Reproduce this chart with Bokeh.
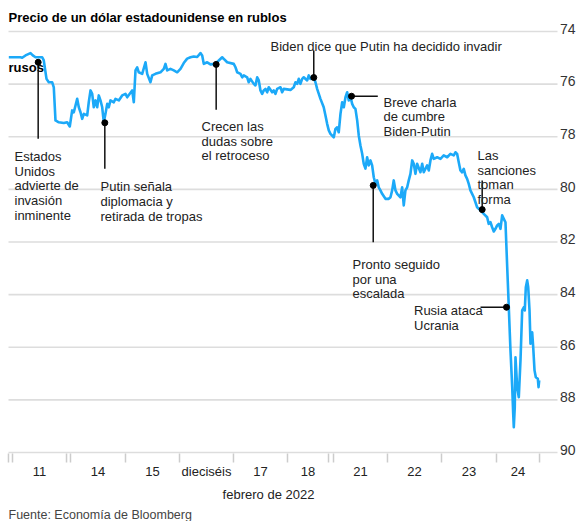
from bokeh.plotting import figure
from bokeh.models import Range1d
from bokeh.embed import file_html
from bokeh.resources import INLINE
from bokeh.core.properties import value

# ---------------- data ----------------
# time axis in trading-session units (one session = ~1.0), weekends compressed
t = [
    -0.068, 0.037, 0.147, 0.178, 0.239, 0.331, 0.373, 0.423, 0.546, 0.575,
    0.625, 0.667, 0.730, 0.759, 0.790, 0.851, 0.943, 1.005, 1.053, 1.097,
    1.127, 1.189, 1.219, 1.250, 1.281, 1.311, 1.373, 1.402, 1.434, 1.465,
    1.494, 1.526, 1.557, 1.586, 1.617, 1.649, 1.678, 1.709, 1.741, 1.770,
    1.801, 1.862, 1.893, 1.954, 2.016, 2.077, 2.108, 2.200, 2.230, 2.261,
    2.292, 2.321, 2.384, 2.445, 2.476, 2.536, 2.568, 2.628, 2.720, 2.781,
    2.812, 2.843, 2.904, 2.965, 3.027, 3.088, 3.148, 3.211, 3.272, 3.332,
    3.395, 3.455, 3.487, 3.516, 3.579, 3.639, 3.731, 3.792, 3.854, 3.884,
    3.946, 4.067, 4.099, 4.130, 4.191, 4.222, 4.252, 4.314, 4.343, 4.374,
    4.435, 4.466, 4.498, 4.527, 4.558, 4.589, 4.619, 4.650, 4.681, 4.711,
    4.773, 4.803, 4.834, 4.865, 4.926, 4.957, 4.987, 5.110, 5.170, 5.202,
    5.233, 5.262, 5.293, 5.325, 5.354, 5.417, 5.446, 5.477, 5.538, 5.569,
    5.600, 5.661, 5.721, 5.753, 5.784, 5.814, 5.845, 5.906, 5.937, 5.968,
    5.997, 6.029, 6.060, 6.090, 6.121, 6.152, 6.181, 6.212, 6.244, 6.273,
    6.304, 6.336, 6.365, 6.396, 6.427, 6.457, 6.488, 6.519, 6.549, 6.580,
    6.611, 6.641, 6.672, 6.703, 6.732, 6.764, 6.795, 6.856, 6.916, 6.948,
    6.979, 7.008, 7.040, 7.071, 7.131, 7.163, 7.192, 7.223, 7.255, 7.284,
    7.315, 7.347, 7.376, 7.407, 7.438, 7.499, 7.531, 7.560, 7.622, 7.652,
    7.683, 7.714, 7.744, 7.806, 7.867, 7.927, 7.990, 8.050, 8.111, 8.142,
    8.173, 8.203, 8.234, 8.265, 8.295, 8.326, 8.357, 8.387, 8.418, 8.449,
    8.479, 8.510, 8.541, 8.602, 8.663, 8.725, 8.754, 8.786, 8.817, 8.847,
    8.878, 8.909, 8.939, 8.970, 9.001, 9.031, 9.062, 9.094, 9.123, 9.154,
    9.186, 9.204, 9.215, 9.233, 9.246, 9.277, 9.307, 9.338, 9.369, 9.399,
    9.417, 9.436, 9.461, 9.480, 9.504, 9.522, 9.553, 9.572, 9.596, 9.620,
    9.657, 9.670, 9.682,
]
rub = [
    74.98, 74.98, 74.98, 75.00, 74.91, 74.82, 74.91, 74.98, 74.98, 75.10,
    75.80, 75.93, 75.93, 76.12, 77.38, 77.45, 77.48, 77.45, 77.61, 77.00,
    77.07, 76.56, 76.88, 77.07, 77.32, 77.13, 77.19, 76.69, 76.24, 76.37,
    76.88, 76.62, 76.88, 76.43, 76.62, 76.88, 77.45, 77.13, 76.75, 76.88,
    76.62, 76.69, 76.56, 76.62, 76.43, 76.37, 76.50, 76.24, 76.69, 75.48,
    75.36, 75.55, 75.61, 75.17, 75.61, 75.93, 75.67, 75.61, 75.55, 75.42,
    75.23, 75.48, 75.42, 75.48, 75.55, 75.42, 75.20, 75.03, 74.98, 74.95,
    74.97, 74.82, 74.91, 75.23, 75.17, 75.25, 75.23, 75.10, 74.98, 75.04,
    75.17, 75.23, 75.36, 75.55, 75.61, 75.74, 75.67, 75.74, 75.93, 75.80,
    75.99, 76.05, 75.74, 75.86, 76.24, 76.37, 76.24, 76.18, 76.31, 76.12,
    76.31, 76.24, 76.37, 76.18, 76.12, 76.31, 76.18, 76.22, 76.12, 75.93,
    75.99, 75.80, 75.99, 75.80, 75.74, 75.86, 75.67, 75.80, 75.74, 75.93,
    76.18, 76.56, 76.88, 77.19, 77.51, 77.76, 77.89, 78.02, 77.70, 77.64,
    77.83, 77.13, 76.69, 76.88, 76.50, 76.31, 76.62, 76.47, 76.75, 76.88,
    76.94, 77.38, 77.95, 78.33, 78.64, 79.03, 79.21, 78.78, 79.09, 78.90,
    79.09, 79.54, 79.79, 79.66, 79.92, 80.04, 80.17, 80.36, 80.36, 80.30,
    80.04, 79.66, 80.04, 80.17, 80.30, 79.92, 80.61, 80.04, 79.92, 79.66,
    79.41, 78.90, 79.03, 79.41, 79.03, 79.35, 79.03, 79.35, 79.09, 79.28,
    78.90, 78.65, 78.84, 78.78, 78.84, 78.71, 78.78, 78.65, 78.71, 78.59,
    78.65, 78.97, 79.28, 79.35, 79.22, 79.47, 79.60, 79.79, 80.04, 80.17,
    80.30, 80.49, 80.68, 80.80, 80.93, 81.06, 81.31, 81.25, 81.44, 81.60,
    81.50, 81.37, 81.31, 81.50, 80.99, 81.12, 81.25, 82.96, 84.48, 86.12,
    87.52, 88.53, 89.04, 88.28, 86.38, 87.52, 87.90, 86.50, 84.60, 84.48,
    84.60, 83.72, 83.46, 83.72, 84.60, 85.87, 85.43, 86.00, 86.88, 87.14,
    87.20, 87.52, 87.26,
]

y_ticks = [74, 76, 78, 80, 82, 84, 86, 88, 90]
y_tick_labels = ["74", "76", "78", "80", "82", "84", "86", "88", "90"]

day_labels = ["11", "14", "15", "dieciséis", "17", "18", "21", "22", "23", "24"]
session_start = [0.0, 1.066, 2.077, 3.070, 4.062, 5.055, 5.901, 6.893, 7.886, 8.897]
session_end = [0.993, 2.077, 3.070, 4.062, 5.055, 5.809, 6.893, 7.886, 8.897, 9.688]
prev_session_end = -0.074

ann_x = [0.472, 1.697, 3.744, 5.538, 6.232, 6.631, 8.634, 9.081]
ann_y = [75.17, 77.47, 75.25, 75.75, 76.46, 79.85, 80.77, 84.48]
ann_text = [
    ["Estados", "Unidos", "advierte de", "invasión", "inminente"],
    ["Putin señala", "diplomacia y", "retirada de tropas"],
    ["Crecen las", "dudas sobre", "el retroceso"],
    ["Biden dice que Putin ha decidido invadir"],
    ["Breve charla", "de cumbre", "Biden-Putin"],
    ["Pronto seguido", "por una", "escalada"],
    ["Las", "sanciones", "toman", "forma"],
    ["Rusia ataca", "Ucrania"],
]

title = "Precio de un dólar estadounidense en rublos"
title2 = "rusos"
x_title = "febrero de 2022"
source = "Fuente: Economía de Bloomberg"

# ---------------- layout (page pixels -> data) ----------------
W, H = 576, 521


def X(px):
    return (px - 12.0) / 54.4


def Y(py):
    return 74.0 + (py - 31.0) / 26.31


PY = 1 / 26.31    # data units per vertical pixel

# leader style: (kind, end page-pixel), text (left px, first baseline px)
ann_layout = [
    ("v", 138.3, 14, 156.0),
    ("v", 168.3, 100, 186.3),
    ("v", 109.3, 201, 126.0),
    ("v", 50.0, 270, 46.0),
    ("h", 377.3, 383, 101.7),
    ("v", 241.7, 352, 264.0),
    ("v", 180.0, 477, 155.0),
    ("h", 480.0, 413.5, 310.0),
]
LINE_H = 14.7

FONT = value("Liberation Sans")
BLUE = "#1CA9F8"

p = figure(width=W, height=H, output_backend="svg", toolbar_location=None,
           x_range=Range1d(X(0), X(W)), y_range=Range1d(Y(H), Y(0)),
           x_axis_type=None, y_axis_type=None, min_border=0,
           background_fill_color="white", border_fill_color="white")
p.outline_line_color = None

# gridlines
n = len(y_ticks)
p.segment(x0=[X(8)] * n, x1=[X(557)] * n, y0=y_ticks, y1=y_ticks,
          line_color="#dddddd", line_width=1.6)

# y tick labels (above gridlines, right aligned)
p.text(x=[X(575)] * n, y=[v - 2.7 * PY for v in y_ticks], text=y_tick_labels,
       text_font=FONT, text_font_size="14px", text_color="#333333",
       text_align="right", text_baseline="alphabetic")

# x ticks at session boundaries
bounds = sorted(set([prev_session_end] + session_start + session_end))
m = len(bounds)
p.segment(x0=bounds, x1=bounds, y0=[Y(453)] * m, y1=[Y(462)] * m,
          line_color="#cccccc", line_width=1.5)

mids = [(a + b) / 2 for a, b in zip(session_start, session_end)]
p.text(x=mids, y=[Y(471)] * len(mids), text=day_labels,
       text_font=FONT, text_font_size="13px", text_color="#222222",
       text_align="center", text_baseline="alphabetic")

# series
p.line(t, rub, line_color=BLUE, line_width=2.6, line_join="round")

# annotations
lx0, ly0, lx1, ly1 = [], [], [], []
tx, ty, tt = [], [], []
for ax, ay, lines, (kind, end, txp, typ) in zip(ann_x, ann_y, ann_text, ann_layout):
    if kind == "v":
        lx0.append(ax); lx1.append(ax); ly0.append(ay); ly1.append(Y(end))
    else:
        lx0.append(ax); lx1.append(X(end)); ly0.append(ay); ly1.append(ay)
    for i, s in enumerate(lines):
        tx.append(X(txp)); ty.append(Y(typ + i * LINE_H)); tt.append(s)

p.segment(x0=lx0, y0=ly0, x1=lx1, y1=ly1, line_color="#111111", line_width=1.5)
p.scatter(ann_x, ann_y, size=6, color="#000000")
p.text(x=tx, y=ty, text=tt, text_font=FONT, text_font_size="13px",
       text_color="#222222", text_align="left", text_baseline="alphabetic")

# titles and footer
p.text(x=[X(8)], y=[Y(17.3)], text=[title], text_font=FONT, text_font_size="13px",
       text_font_style="bold", text_color="#000000", text_baseline="alphabetic")
p.text(x=[X(8)], y=[Y(66.5)], text=[title2], text_font=FONT, text_font_size="13px",
       text_font_style="bold", text_color="#000000", text_baseline="alphabetic")
p.text(x=[X(268)], y=[Y(494)], text=[x_title], text_font=FONT, text_font_size="13px",
       text_color="#222222", text_align="center", text_baseline="alphabetic")
p.text(x=[X(8)], y=[Y(514.5)], text=[source], text_font=FONT, text_font_size="12.5px",
       text_color="#444444", text_baseline="alphabetic")

open("out.html", "w").write(file_html(p, INLINE))
